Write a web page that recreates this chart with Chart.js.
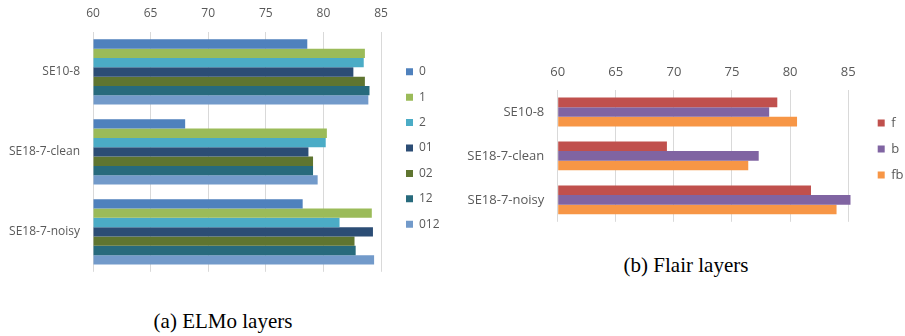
<!DOCTYPE html>
<html>
<head>
<meta charset="utf-8">
<script src="https://cdn.jsdelivr.net/npm/chart.js@4"></script>
<style>
  body { margin: 0; background: #fff; width: 905px; height: 336px; position: relative; overflow: hidden; }
  .box { position: absolute; }
  .cap { position: absolute; font-family: 'Liberation Serif', 'DejaVu Serif', 'Times New Roman', Times, serif; font-size: 21px; color: #000; white-space: nowrap; transform: translateX(-50%); }
</style>
</head>
<body>
<div class="box" style="left:0;top:0"><canvas id="elmo" width="455" height="292"></canvas></div>
<div class="box" style="left:460px;top:50px"><canvas id="flair" width="445" height="193"></canvas></div>
<div class="cap" style="left:223px;top:309px">(a) ELMo layers</div>
<div class="cap" style="left:686px;top:253px">(b) Flair layers</div>
<script>
var categories = ["SE10-8", "SE18-7-clean", "SE18-7-noisy"];
var xTicks = [60, 65, 70, 75, 80, 85];

// ELMo layer combinations
var elmoLayers = ["0", "1", "2", "01", "02", "12", "012"];
var elmo0   = [78.6, 68.0, 78.2];
var elmo1   = [83.6, 80.3, 84.2];
var elmo2   = [83.5, 80.2, 81.4];
var elmo01  = [82.6, 78.7, 84.3];
var elmo02  = [83.6, 79.1, 82.7];
var elmo12  = [84.0, 79.1, 82.8];
var elmo012 = [83.9, 79.5, 84.4];

// Flair directions
var flairLayers = ["f", "b", "fb"];
var flairF  = [78.9, 69.4, 81.8];
var flairB  = [78.2, 77.3, 85.2];
var flairFB = [80.6, 76.4, 84.0];

var elmoColors = ["#4F81BD", "#9BBB59", "#4BACC6", "#2C4D75", "#5F7530", "#276A7C", "#729ACA"];
var flairColors = ["#C0504D", "#8064A2", "#F79646"];

var grey = "#595959";
var gridGrey = "#d9d9d9";
var sans = "'Open Sans', 'Noto Sans', sans-serif";

// move the legend to where the original puts it
var legendNudge = {
    id: 'legendNudge',
    afterLayout: function(chart, args, opts) {
        var lg = chart.legend;
        if (!lg || opts.left == null) return;
        var dx = opts.left - lg.left;
        var dy = opts.dy || 0;
        lg.left += dx;
        lg.right += dx;
        lg.top += dy;
        lg.bottom += dy;
    }
};

function makeChart(id, names, series, colors, cfg) {
    var datasets = names.map(function(n, i) {
        return {
            label: n,
            data: series[i],
            base: xTicks[0],
            backgroundColor: colors[i],
            borderWidth: 0,
            categoryPercentage: cfg.catPct,
            barPercentage: 1,
            clip: false
        };
    });
    return new Chart(document.getElementById(id), {
        type: 'bar',
        data: { labels: categories, datasets: datasets },
        plugins: [legendNudge],
        options: {
            indexAxis: 'y',
            responsive: false,
            animation: false,
            layout: { padding: cfg.padding },
            scales: {
                x: {
                    position: 'top',
                    min: xTicks[0],
                    max: xTicks[xTicks.length - 1],
                    afterBuildTicks: function(s) { s.ticks = xTicks.map(function(v) { return { value: v }; }); },
                    afterFit: function(s) { s.height = cfg.xHeight; },
                    grid: { color: gridGrey, lineWidth: 1, drawTicks: false },
                    border: { display: false },
                    ticks: { color: grey, font: { family: sans, size: cfg.font }, padding: cfg.xPad }
                },
                y: {
                    afterFit: function(s) { s.width = cfg.yWidth; },
                    grid: { display: false, drawTicks: false },
                    border: { display: false },
                    ticks: { color: grey, font: { family: sans, size: cfg.font }, padding: cfg.yPad }
                }
            },
            plugins: {
                legend: {
                    position: 'right',
                    labels: {
                        boxWidth: 7, boxHeight: 7,
                        padding: cfg.legPad,
                        color: grey,
                        font: { family: sans, size: cfg.font }
                    }
                },
                legendNudge: { left: cfg.legLeft, dy: cfg.legDy },
                tooltip: { enabled: false }
            }
        }
    });
}

makeChart('elmo', elmoLayers,
    [elmo0, elmo1, elmo2, elmo01, elmo02, elmo12, elmo012], elmoColors,
    { catPct: 0.816, padding: { left: 0, right: 17, top: 0, bottom: 10 },
      xHeight: 32, xPad: 11, yWidth: 93, yPad: 13, font: 12,
      legPad: 13.4, legLeft: 406 - 13.4, legDy: 7 });

makeChart('flair', flairLayers,
    [flairF, flairB, flairFB], flairColors,
    { catPct: 0.656, padding: { left: 0, right: 8, top: 0, bottom: 20.3 },
      xHeight: 40, xPad: 10, yWidth: 97.7, yPad: 13.4, font: 13,
      legPad: 13, legLeft: 417.7 - 13, legDy: 12.7 });
</script>
</body>
</html>
